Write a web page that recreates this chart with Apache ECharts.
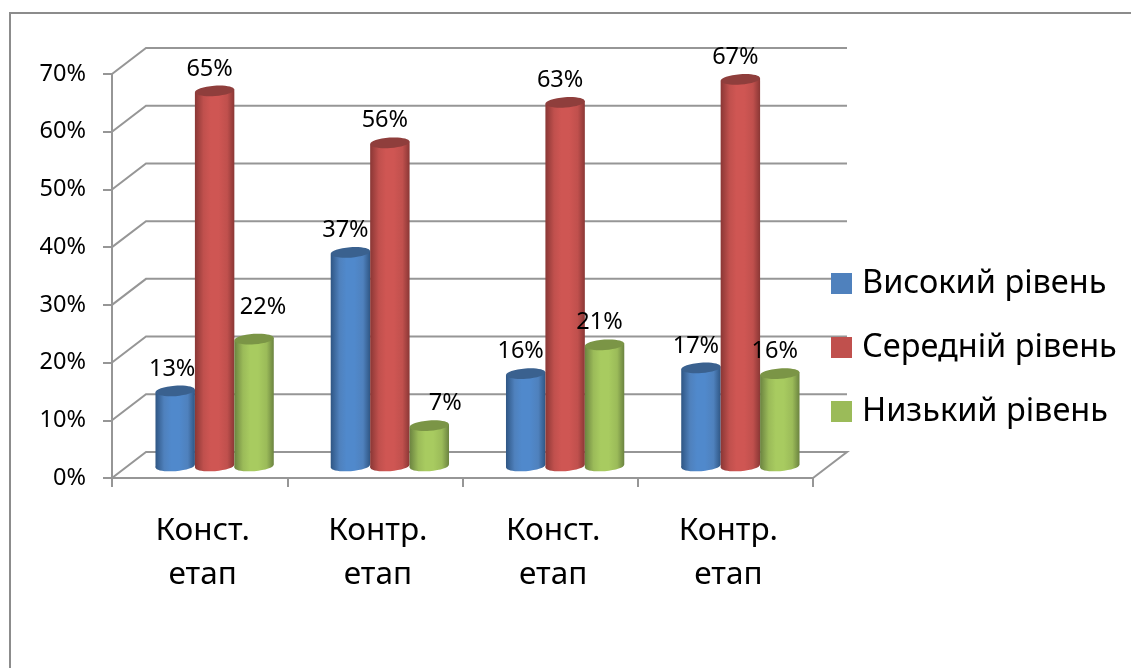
<!DOCTYPE html>
<html>
<head>
<meta charset="utf-8">
<style>html,body{margin:0;padding:0;background:#fff}#c{width:1131px;height:668px}</style>
<script src="https://cdn.jsdelivr.net/npm/echarts@6/dist/echarts.min.js"></script>
</head>
<body>
<div id="c"></div>
<script>
const categories = ['Конст.\nетап', 'Контр.\nетап', 'Конст.\nетап', 'Контр.\nетап'];
const seriesNames = ['Високий рівень', 'Середній рівень', 'Низький рівень'];
const high = [13, 37, 16, 17];
const middle = [65, 56, 63, 67];
const low = [22, 7, 21, 16];
const yTicks = [0, 10, 20, 30, 40, 50, 60, 70];

const FONT = '"Noto Sans", sans-serif';
const GRID = '#969696';
const palette = [
  {flat: '#4f81bd', edge: '#2f5684', mid: '#5089cc', top: '#3a618f'},
  {flat: '#c0504d', edge: '#8a3735', mid: '#cf5653', top: '#8f3e3c'},
  {flat: '#9bbb59', edge: '#6b8340', mid: '#a8cb60', top: '#7b9546'}
];
const BACK_X = 34, BACK_Y = -26;      // depth of the 3D box
const MID_X = 15, MID_Y = -12;        // columns stand mid-depth
const RY = 5.2, TILT = 0.07;

// label nudges relative to the column top: exceptions keyed "series-category"
const nudge = {'0-0': [2, 0], '2-0': [14, -10], '2-1': [21, 0]};

function cylinder(sIdx) {
  const c = palette[sIdx];
  return function (params, api) {
    const cat = api.value(0), val = api.value(1);
    const band = api.size([1, 0])[0];
    const w = band * 0.225;
    const top = api.coord([cat, val]);
    const base = api.coord([cat, 0]);
    const cx = top[0] + (sIdx - 1) * w + MID_X;
    const yt = top[1] + MID_Y, yb = base[1] + MID_Y;
    const grad = {
      type: 'linear', x: 0, y: 0, x2: 1, y2: 0,
      colorStops: [
        {offset: 0, color: c.edge}, {offset: 0.22, color: c.flat}, {offset: 0.4, color: c.mid},
        {offset: 0.6, color: c.mid}, {offset: 0.82, color: c.flat}, {offset: 1, color: c.edge}
      ]
    };
    const slope = w / 2 * TILT;
    const n = nudge[sIdx + '-' + cat] || [0, 0];
    return {
      type: 'group',
      children: [
        {type: 'ellipse', shape: {cx: cx, cy: yb, rx: w / 2, ry: RY},
         originX: cx, originY: yb, rotation: TILT, style: {fill: grad}},
        {type: 'polygon', shape: {points: [
          [cx - w / 2, yt + slope], [cx + w / 2, yt - slope],
          [cx + w / 2, yb - slope], [cx - w / 2, yb + slope]
        ]}, style: {fill: grad}},
        {type: 'ellipse', shape: {cx: cx, cy: yt, rx: w / 2, ry: RY},
         originX: cx, originY: yt, rotation: TILT, style: {fill: c.top}},
        {type: 'text', style: {
          x: cx - 5 + n[0], y: yt - 22 + n[1], text: val + '%',
          font: '23.5px ' + FONT, fill: '#000', align: 'center', verticalAlign: 'middle'
        }}
      ]
    };
  };
}

function gridLine(params, api) {
  const v = api.value(1);
  const band = api.size([1, 0])[0];
  const l = api.coord([0, v]), r = api.coord([categories.length - 1, v]);
  const xl = l[0] - band / 2, xr = r[0] + band / 2, y = l[1];
  const pts = [[xl, y], [xl + BACK_X, y + BACK_Y], [xr + BACK_X, y + BACK_Y]];
  if (v === 0) pts.push([xr, y]);
  return {type: 'polyline', shape: {points: pts}, style: {fill: null, stroke: GRID, lineWidth: 2}};
}

const columnSeries = [high, middle, low].map((vals, i) => ({
  name: seriesNames[i],
  type: 'custom',
  z: 3 + i,
  renderItem: cylinder(i),
  itemStyle: {color: palette[i].flat},
  encode: {x: 0, y: 1},
  data: vals.map((v, k) => [k, v])
}));

const chart = echarts.init(document.getElementById('c'), null, {renderer: 'canvas'});
chart.setOption({
  animation: false,
  backgroundColor: '#fff',
  graphic: [{
    type: 'rect', z: 0, silent: true,
    shape: {x: 10, y: 13, width: 1300, height: 800},
    style: {fill: null, stroke: '#8c8c8c', lineWidth: 2}
  }],
  grid: {left: 112, right: 318, top: 74, bottom: 190},
  legend: {
    orient: 'vertical', left: 831, top: 262, padding: 0,
    itemWidth: 21, itemHeight: 21, itemGap: 21, icon: 'rect',
    data: seriesNames,
    textStyle: {fontFamily: FONT, fontSize: 32.5, color: '#000', lineHeight: 40, padding: [3, 0, 0, 5]}
  },
  xAxis: {
    type: 'category', data: categories,
    axisLine: {lineStyle: {color: GRID, width: 2}},
    axisTick: {show: true, length: 9, lineStyle: {color: GRID, width: 2}},
    axisLabel: {
      fontFamily: FONT, fontSize: 31.5, color: '#000', lineHeight: 44,
      margin: 31, padding: [0, 0, 0, 6], interval: 0
    }
  },
  yAxis: {
    type: 'value', min: 0, max: 70, interval: 10,
    axisLine: {show: true, lineStyle: {color: GRID, width: 2}},
    axisTick: {show: true, length: 9, lineStyle: {color: GRID, width: 2}},
    splitLine: {show: false},
    axisLabel: {
      formatter: '{value}%', fontFamily: FONT, fontSize: 23.5, color: '#000', margin: 26, padding: [5, 0, 0, 0]
    }
  },
  series: [{
    type: 'custom', z: 1, silent: true,
    renderItem: gridLine,
    encode: {x: 0, y: 1},
    data: yTicks.map(v => [0, v])
  }].concat(columnSeries)
});
</script>
</body>
</html>
